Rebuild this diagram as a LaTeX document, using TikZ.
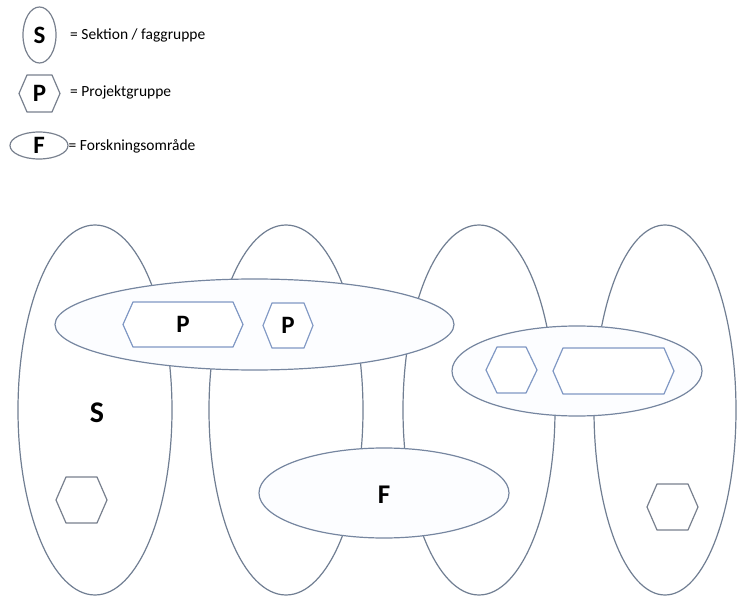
\documentclass[tikz,border=0pt]{standalone}
\usepackage{fontspec}
\setmainfont{Carlito}
\usetikzlibrary{shapes.geometric}
\definecolor{vline}{RGB}{112,126,146}
\definecolor{hline}{RGB}{118,134,160}
\definecolor{hfill}{RGB}{252,253,255}
\definecolor{hexblue}{RGB}{128,152,196}
\definecolor{hexgray}{RGB}{120,128,142}
\tikzset{
  vell/.style={draw=vline, line width=1.2pt, ellipse, inner sep=0pt},
  hell/.style={draw=hline, fill=hfill, line width=1.2pt, ellipse, inner sep=0pt},
  hexb/.style={draw=hexblue, fill=white, line width=1.2pt, line join=round},
  hexg/.style={draw=hexgray, fill=white, line width=1.2pt, line join=round},
  lbl/.style={font=\bfseries\fontsize{27}{27}\selectfont, inner sep=0pt},
  leglbl/.style={font=\bfseries\fontsize{25}{25}\selectfont, inner sep=0pt},
  legtxt/.style={font=\fontsize{15.5}{17}\selectfont, anchor=west, inner sep=0pt},
}
% #1 name, #2 x, #3 y, #4 half width, #5 half height, #6 indent, #7 style, #8 label, #9 label style
\newcommand\hexnode[9]{%
  \node[inner sep=0pt, minimum width={2*#4}, minimum height={2*#5}] (#1) at (#2,#3) {};
  \draw[#7] ([xshift={-#4 pt}]#1.center) -- ++({#6},{-#5}) -- ++({2*#4-2*#6},0) -- ++({#6},{#5})
     -- ++({-#6},{#5}) -- ++({-2*#4+2*#6},0) -- cycle;
  \node[#9] at (#1.center) {#8};
}
\begin{document}
\begin{tikzpicture}[x=1pt,y=-1pt]
\useasboundingbox (0,0) rectangle (737,596);
% legend
\node[vell, minimum width=33pt, minimum height=56pt, draw=hexgray] (legS) at (39.5,35) {};
\node[leglbl] at (legS.center) {S};
\node[legtxt] (legSt) at (70,35) {= Sektion / faggruppe};
\hexnode{legP}{39.5}{93.5}{20.5}{18.5}{8}{hexg}{P}{leglbl}
\node[legtxt] (legPt) at (70,92) {= Projektgruppe};
\node[vell, minimum width=58pt, minimum height=27pt, draw=hexgray] (legF) at (39,145.5) {};
\node[leglbl] at (legF.center) {F};
\node[legtxt] (legFt) at (68.5,146) {= Forskningsområde};
% vertical ellipses (sections)
\node[vell, minimum width=154pt, minimum height=370pt] (s1) at (95,410) {};
\node[vell, minimum width=154pt, minimum height=370pt] (s2) at (286,410) {};
\node[vell, minimum width=152pt, minimum height=370pt] (s3) at (479,410) {};
\node[vell, minimum width=142pt, minimum height=370pt] (s4) at (665,410) {};
\node[lbl, font=\bfseries\fontsize{30}{30}\selectfont] (sS) at (97,413) {S};
% research areas
\node[hell, minimum width=399pt, minimum height=91pt] (f1) at (254.5,324.5) {};
\node[hell, minimum width=250pt, minimum height=90pt] (f2) at (384,493) {};
\node[hell, minimum width=250pt, minimum height=90pt] (f3) at (577,371) {};
\node[lbl] (fF) at (384,495) {F};
% project groups
\hexnode{p1}{183}{324.5}{60}{22.5}{10}{hexb}{P}{lbl, font=\bfseries\fontsize{25}{25}\selectfont}
\hexnode{p2}{288}{325.5}{25}{22.5}{9}{hexb}{P}{lbl, font=\bfseries\fontsize{25}{25}\selectfont}
\hexnode{p3}{511.5}{370}{25.5}{23}{11}{hexb}{}{lbl}
\hexnode{p4}{613.5}{371}{60.5}{23}{10}{hexb}{}{lbl}
\hexnode{p5}{81.5}{500}{25.5}{23}{10}{hexg}{}{lbl}
\hexnode{p6}{672.5}{507}{25.5}{23}{10}{hexg}{}{lbl}
\end{tikzpicture}
\end{document}
